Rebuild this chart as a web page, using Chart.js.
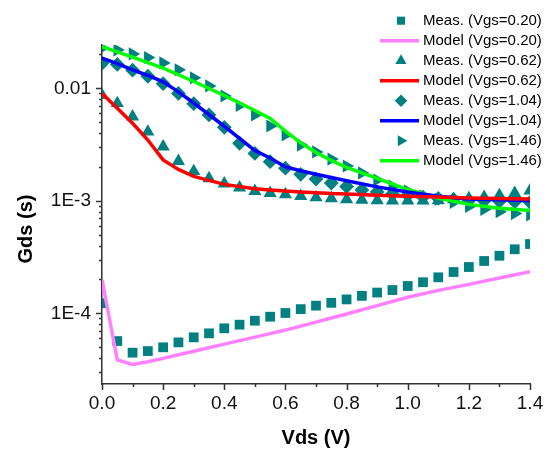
<!DOCTYPE html>
<html>
<head>
<meta charset="utf-8">
<script src="https://cdn.jsdelivr.net/npm/chart.js@4.4.1/dist/chart.umd.min.js"></script>
<style>
  html, body { margin: 0; padding: 0; background: #fff; }
  #wrap { width: 555px; height: 450px; }
</style>
</head>
<body>
<div id="wrap"><canvas id="gds" width="555" height="450"></canvas></div>
<script>
(function () {
  "use strict";

  // Vds sweep of the measured points and of the model curves (V)
  const vdsMeas = [0, 0.05, 0.1, 0.15, 0.2, 0.25, 0.3, 0.35, 0.4, 0.45, 0.5, 0.55, 0.6, 0.65, 0.7,
    0.75, 0.8, 0.85, 0.9, 0.95, 1.0, 1.05, 1.1, 1.15, 1.2, 1.25, 1.3, 1.35, 1.4];
  const vdsModel = [0, 0.05, 0.1, 0.15, 0.2, 0.25, 0.3, 0.4, 0.5, 0.55, 0.6, 0.65, 0.7, 0.75, 0.8,
    0.9, 1.0, 1.1, 1.2, 1.3, 1.4];

  // measured Gds (S)
  const measVgs020 = [1.23e-4, 5.67e-5, 4.47e-5, 4.62e-5, 4.99e-5, 5.52e-5, 6.12e-5, 6.64e-5, 7.36e-5,
    7.93e-5, 8.6e-5, 9.33e-5, 1.007e-4, 1.09e-4, 1.17e-4, 1.24e-4, 1.33e-4, 1.43e-4, 1.53e-4, 1.61e-4,
    1.75e-4, 1.89e-4, 2.09e-4, 2.33e-4, 2.58e-4, 2.92e-4, 3.25e-4, 3.71e-4, 4.13e-4];
  const measVgs062 = [8.7e-3, 7.36e-3, 5.6e-3, 4.11e-3, 3.03e-3, 2.25e-3, 1.83e-3, 1.58e-3, 1.42e-3,
    1.31e-3, 1.22e-3, 1.17e-3, 1.14e-3, 1.10e-3, 1.07e-3, 1.05e-3, 1.03e-3, 1.02e-3, 1.01e-3, 1.0e-3,
    1.0e-3, 1.0e-3, 1.01e-3, 1.03e-3, 1.05e-3, 1.08e-3, 1.12e-3, 1.17e-3, 1.23e-3];
  const measVgs104 = [0.0167, 0.0163, 0.0145, 0.0128, 0.0110, 0.0090, 0.0073, 0.0058, 0.0045, 0.00325,
    0.00264, 0.00223, 0.00195, 0.00172, 0.00156, 0.00144, 0.00134, 0.00125, 0.0012, 0.00115, 0.00112,
    0.00108, 0.00105, 0.00103, 0.00101, 0.0010, 0.00099, 0.00098, 0.00097];
  const measVgs146 = [0.0228, 0.0219, 0.0202, 0.0188, 0.0168, 0.0146, 0.0124, 0.0105, 0.00855, 0.00703,
    0.0058, 0.00462, 0.00385, 0.00313, 0.00272, 0.00235, 0.00204, 0.00177, 0.00153, 0.00135, 0.00122,
    0.0011, 0.00103, 0.00097, 0.00089, 0.00084, 0.0008, 0.00077, 0.00075];

  // model Gds (S)
  const modelVgs020 = [2.0e-4, 3.85e-5, 3.52e-5, 3.72e-5, 3.98e-5, 4.28e-5, 4.6e-5, 5.33e-5, 6.15e-5,
    6.6e-5, 7.1e-5, 7.7e-5, 8.35e-5, 9.1e-5, 9.86e-5, 1.17e-4, 1.39e-4, 1.6e-4, 1.81e-4, 2.06e-4, 2.34e-4];
  const modelVgs062 = [9.0e-3, 6.64e-3, 4.89e-3, 3.47e-3, 2.31e-3, 1.9e-3, 1.65e-3, 1.4e-3, 1.28e-3,
    1.25e-3, 1.22e-3, 1.2e-3, 1.18e-3, 1.16e-3, 1.15e-3, 1.12e-3, 1.1e-3, 1.08e-3, 1.06e-3, 1.05e-3, 1.04e-3];
  const modelVgs104 = [0.0185, 0.0166, 0.0146, 0.0130, 0.0114, 0.0093, 0.0074, 0.0046, 0.0028, 0.0024,
    0.0020, 0.00185, 0.00172, 0.00161, 0.00151, 0.00133, 0.0012, 0.0011, 0.00104, 0.00102, 0.0010];
  const modelVgs146 = [0.0234, 0.0211, 0.0189, 0.0169, 0.0151, 0.0132, 0.0115, 0.00863, 0.00635, 0.0054,
    0.00417, 0.00327, 0.00269, 0.00228, 0.00198, 0.00158, 0.00126, 0.00106, 0.00093, 0.00086, 0.00082];

  // axes
  const xTicks = [0, 0.2, 0.4, 0.6, 0.8, 1.0, 1.2, 1.4];
  const xMinorTicks = [0.1, 0.3, 0.5, 0.7, 0.9, 1.1, 1.3];
  const yTicks = [1e-4, 1e-3, 1e-2];
  const yTickLabels = ["1E-4", "1E-3", "0.01"];
  const Y_MIN = 2.355e-5;
  const Y_MAX = 0.02426;

  const FONT = "'Liberation Sans', Arial, Helvetica, sans-serif";
  const TEAL = "#008080";
  const AXIS = "#333";

  function pts(xs, ys) {
    return xs.map((x, i) => ({ x, y: ys[i] }));
  }

  function meas(label, ys, style, rot, r) {
    return {
      label,
      data: pts(vdsMeas, ys),
      pointStyle: style,
      rotation: rot,
      pointRadius: r,
      backgroundColor: TEAL,
      borderColor: TEAL,
      borderWidth: 0,
      showLine: false,
      clip: 0,
      order: 2,
    };
  }

  function model(label, ys, color) {
    return {
      label,
      data: pts(vdsModel, ys),
      showLine: true,
      borderColor: color,
      backgroundColor: color,
      borderWidth: 3.5,
      pointRadius: 0,
      tension: 0,
      clip: 0,
      order: 1,
    };
  }

  const datasets = [
    meas("Meas. (Vgs=0.20)", measVgs020, "rect", 0, 6.9),
    model("Model (Vgs=0.20)", modelVgs020, "#ff80ff"),
    meas("Meas. (Vgs=0.62)", measVgs062, "triangle", 0, 7.6),
    model("Model (Vgs=0.62)", modelVgs062, "#ff0000"),
    meas("Meas. (Vgs=1.04)", measVgs104, "rectRot", 0, 7.4),
    model("Model (Vgs=1.04)", modelVgs104, "#0000ff"),
    meas("Meas. (Vgs=1.46)", measVgs146, "triangle", 90, 7.6),
    model("Model (Vgs=1.46)", modelVgs146, "#00ff00"),
  ];

  // ticks with minor marks, rotated y title and the in-plot legend
  const decorations = {
    id: "decorations",
    afterDraw(chart) {
      const ctx = chart.ctx;
      const xs = chart.scales.x;
      const ys = chart.scales.y;
      const area = chart.chartArea;
      ctx.save();
      ctx.strokeStyle = AXIS;
      ctx.lineWidth = 1.5;
      ctx.beginPath();
      xTicks.forEach((v) => {
        const px = Math.round(xs.getPixelForValue(v)) + 0.5;
        ctx.moveTo(px, area.bottom);
        ctx.lineTo(px, area.bottom + 6);
      });
      xMinorTicks.forEach((v) => {
        const px = Math.round(xs.getPixelForValue(v)) + 0.5;
        ctx.moveTo(px, area.bottom);
        ctx.lineTo(px, area.bottom + 3);
      });
      for (let e = -5; e <= -1; e++) {
        for (let m = 1; m <= 9; m++) {
          const v = m * Math.pow(10, e);
          if (v < Y_MIN || v > Y_MAX) continue;
          const py = Math.round(ys.getPixelForValue(v)) + 0.5;
          ctx.moveTo(area.left, py);
          ctx.lineTo(area.left - (m === 1 ? 6 : 3), py);
        }
      }
      ctx.stroke();

      // y title
      ctx.fillStyle = "#000";
      ctx.font = "bold 20px " + FONT;
      ctx.textAlign = "center";
      ctx.textBaseline = "middle";
      ctx.translate(26, 229);
      ctx.rotate(-Math.PI / 2);
      ctx.fillText("Gds (s)", 0, 0);
      ctx.setTransform(1, 0, 0, 1, 0, 0);
      ctx.restore();

      // legend
      ctx.save();
      ctx.font = "15px " + FONT;
      ctx.textAlign = "left";
      ctx.textBaseline = "middle";
      chart.data.datasets.forEach((ds, i) => {
        const y = 20.7 + i * 20;
        if (ds.showLine) {
          ctx.strokeStyle = ds.borderColor;
          ctx.lineWidth = 3.5;
          ctx.beginPath();
          ctx.moveTo(380, y);
          ctx.lineTo(419, y);
          ctx.stroke();
        } else {
          ctx.fillStyle = ds.backgroundColor;
          ctx.strokeStyle = ds.borderColor;
          Chart.helpers.drawPoint(ctx, {
            pointStyle: ds.pointStyle,
            rotation: ds.rotation,
            radius: ds.pointRadius - 1.2,
            borderWidth: 0,
          }, 401, y);
        }
        ctx.fillStyle = "#000";
        ctx.fillText(ds.label, 423, y);
      });
      ctx.restore();
    },
  };

  new Chart(document.getElementById("gds"), {
    type: "scatter",
    data: { datasets },
    plugins: [decorations],
    options: {
      responsive: false,
      animation: false,
      events: [],
      layout: { padding: { top: 45, right: 25, left: 0, bottom: 0 } },
      plugins: { legend: { display: false }, tooltip: { enabled: false } },
      scales: {
        x: {
          type: "linear",
          min: 0,
          max: 1.4,
          afterBuildTicks: (s) => { s.ticks = xTicks.map((v) => ({ value: v })); },
          afterFit: (s) => { s.height = 66; },
          ticks: {
            autoSkip: false,
            maxRotation: 0,
            padding: 8,
            color: "#111",
            font: { family: FONT, size: 19 },
            callback: (v) => Number(v).toFixed(1),
          },
          grid: { drawOnChartArea: false, drawTicks: false },
          border: { color: AXIS, width: 1.5 },
          title: {
            display: true,
            text: "Vds (V)",
            color: "#000",
            font: { family: FONT, size: 20, weight: "bold" },
            padding: { top: 0, bottom: 0 },
          },
        },
        y: {
          type: "logarithmic",
          min: Y_MIN,
          max: Y_MAX,
          afterBuildTicks: (s) => { s.ticks = yTicks.map((v) => ({ value: v })); },
          afterFit: (s) => { s.width = 102; },
          ticks: {
            autoSkip: false,
            padding: 11,
            color: "#111",
            font: { family: FONT, size: 19 },
            callback: (v, i) => yTickLabels[i],
          },
          grid: { drawOnChartArea: false, drawTicks: false },
          border: { color: AXIS, width: 1.5 },
        },
      },
    },
  });
})();
</script>
</body>
</html>
